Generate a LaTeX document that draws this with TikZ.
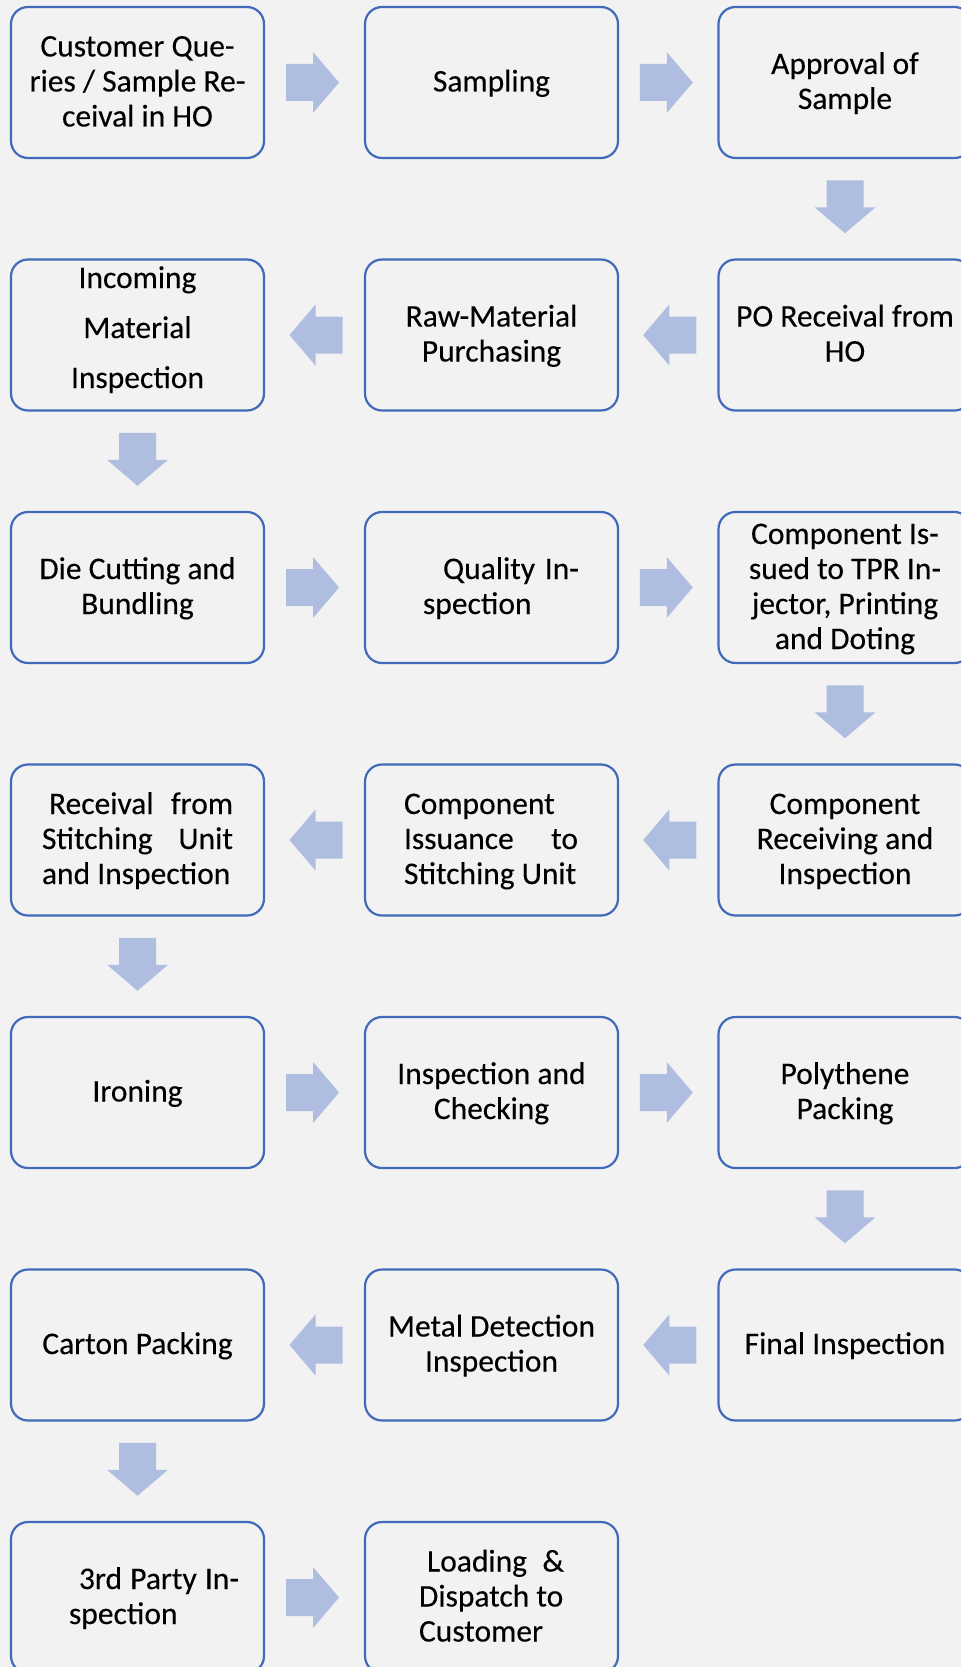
\documentclass[tikz,border=0pt]{standalone}
\usepackage{fontspec}
\setmainfont{Carlito}[FakeBold=0.2]
\usetikzlibrary{calc}

\definecolor{pagebg}{RGB}{242,242,242}
\definecolor{boxblue}{RGB}{66,106,186}
\definecolor{flowfill}{RGB}{175,189,225}

% line struts: height 25pt, depth 7pt (and a deeper one)
\newcommand\ls{\rule[-7pt]{0pt}{32pt}}
\newcommand\lsdeep{\rule[-19pt]{0pt}{44pt}}

\begin{document}
\begin{tikzpicture}[x=1pt,y=-1pt,
  stepbox/.style={draw=boxblue, line width=2.2pt, rounded corners=17pt,
    fill=pagebg, minimum width=253pt, minimum height=151pt, inner sep=0pt,
    align=center, font=\fontsize{31.5pt}{35pt}\selectfont},
  pics/flowarrow/.style={code={
    \fill[flowfill] (-26.5,-18.5) -- (0.5,-18.5) -- (0.5,-30.5) -- (26.5,0)
      -- (0.5,30.5) -- (0.5,18.5) -- (-26.5,18.5) -- cycle;}}
]
\useasboundingbox (0,0) rectangle (961,1667);
\clip (0,0) rectangle (961,1667);
\fill[pagebg] (0,0) rectangle (961,1667);

% row 1
\node[stepbox] (s1) at (137.5,82.5) {\ls Customer Que-\\\ls ries / Sample Re-\\\ls ceival in HO};
\node[stepbox] (s2) at (491.5,82.5) {\ls Sampling};
\node[stepbox] (s3) at (845,82.5) {\ls Approval of\\\ls Sample};
% row 2
\node[stepbox] (s4) at (845,335) {\ls PO Receival from\\\ls HO};
\node[stepbox] (s5) at (491.5,335) {\ls Raw-Material\\\ls Purchasing};
\node[stepbox] (s6) at (137.5,335) {\ls Incoming\\[15pt]\ls Material\\[15pt]\lsdeep Inspection};
% row 3
\node[stepbox] (s7) at (137.5,587.5) {\ls Die Cutting and\\\ls Bundling};
\node[stepbox] (s8) at (491.5,587.5) {\makebox[253pt][l]{\hspace{58pt}\vbox{%
  \hbox to 156pt{\ls\hspace{20pt}Quality\hfill In-}\hbox{\ls spection}}}};
\node[stepbox] (s9) at (845,587.5) {\ls Component Is-\\\ls sued to TPR In-\\\ls jector, Printing\\\ls and Doting};
% row 4
\node[stepbox] (s10) at (845,840) {\ls Component\\\ls Receiving and\\\ls Inspection};
\node[stepbox] (s11) at (491.5,840) {\makebox[253pt][l]{\hspace{39pt}\vbox{%
  \hbox{\ls Component}\hbox to 174pt{\ls Issuance\hfill to}\hbox{\ls Stitching Unit}}}};
\node[stepbox] (s12) at (137.5,840) {\makebox[253pt][l]{\hspace{31pt}\vbox{%
  \hbox to 191pt{\ls\hspace{7pt}Receival\hfill from}\hbox to 191pt{\ls Stitching\hfill Unit}\hbox{\ls and Inspection}}}};
% row 5
\node[stepbox] (s13) at (137.5,1092.5) {\ls Ironing};
\node[stepbox] (s14) at (491.5,1092.5) {\ls Inspection and\\\ls Checking};
\node[stepbox] (s15) at (845,1092.5) {\ls Polythene\\\ls Packing};
% row 6
\node[stepbox] (s16) at (845,1345) {\ls Final Inspection};
\node[stepbox] (s17) at (491.5,1345) {\ls Metal Detection\\\ls Inspection};
\node[stepbox] (s18) at (137.5,1345) {\ls Carton Packing};
% row 7
\node[stepbox] (s19) at (137.5,1597.5) {\makebox[253pt][l]{\hspace{58pt}\vbox{%
  \hbox to 170pt{\ls\hspace{10pt}3rd\hfill Party\hfill In-}\hbox{\ls spection}}}};
\node[stepbox] (s20) at (491.5,1597.5) {\makebox[253pt][l]{\hspace{54pt}\vbox{%
  \hbox to 145pt{\ls\hspace{8pt}Loading\hfill\&}\hbox{\ls Dispatch to}\hbox{\ls Customer}}}};

% block arrows between the steps
\pic at ($(s1.east)!0.5!(s2.west)+(-2,0)$) {flowarrow};
\pic at ($(s2.east)!0.5!(s3.west)+(-2,0)$) {flowarrow};
\pic[rotate=-90] at ($(s3.south)!0.5!(s4.north)+(0,-2)$) {flowarrow};
\pic[rotate=180] at ($(s4.west)!0.5!(s5.east)+(1.5,0)$) {flowarrow};
\pic[rotate=180] at ($(s5.west)!0.5!(s6.east)+(1.5,0)$) {flowarrow};
\pic[rotate=-90] at ($(s6.south)!0.5!(s7.north)+(0,-2)$) {flowarrow};
\pic at ($(s7.east)!0.5!(s8.west)+(-2,0)$) {flowarrow};
\pic at ($(s8.east)!0.5!(s9.west)+(-2,0)$) {flowarrow};
\pic[rotate=-90] at ($(s9.south)!0.5!(s10.north)+(0,-2)$) {flowarrow};
\pic[rotate=180] at ($(s10.west)!0.5!(s11.east)+(1.5,0)$) {flowarrow};
\pic[rotate=180] at ($(s11.west)!0.5!(s12.east)+(1.5,0)$) {flowarrow};
\pic[rotate=-90] at ($(s12.south)!0.5!(s13.north)+(0,-2)$) {flowarrow};
\pic at ($(s13.east)!0.5!(s14.west)+(-2,0)$) {flowarrow};
\pic at ($(s14.east)!0.5!(s15.west)+(-2,0)$) {flowarrow};
\pic[rotate=-90] at ($(s15.south)!0.5!(s16.north)+(0,-2)$) {flowarrow};
\pic[rotate=180] at ($(s16.west)!0.5!(s17.east)+(1.5,0)$) {flowarrow};
\pic[rotate=180] at ($(s17.west)!0.5!(s18.east)+(1.5,0)$) {flowarrow};
\pic[rotate=-90] at ($(s18.south)!0.5!(s19.north)+(0,-2)$) {flowarrow};
\pic at ($(s19.east)!0.5!(s20.west)+(-2,0)$) {flowarrow};
\end{tikzpicture}
\end{document}
